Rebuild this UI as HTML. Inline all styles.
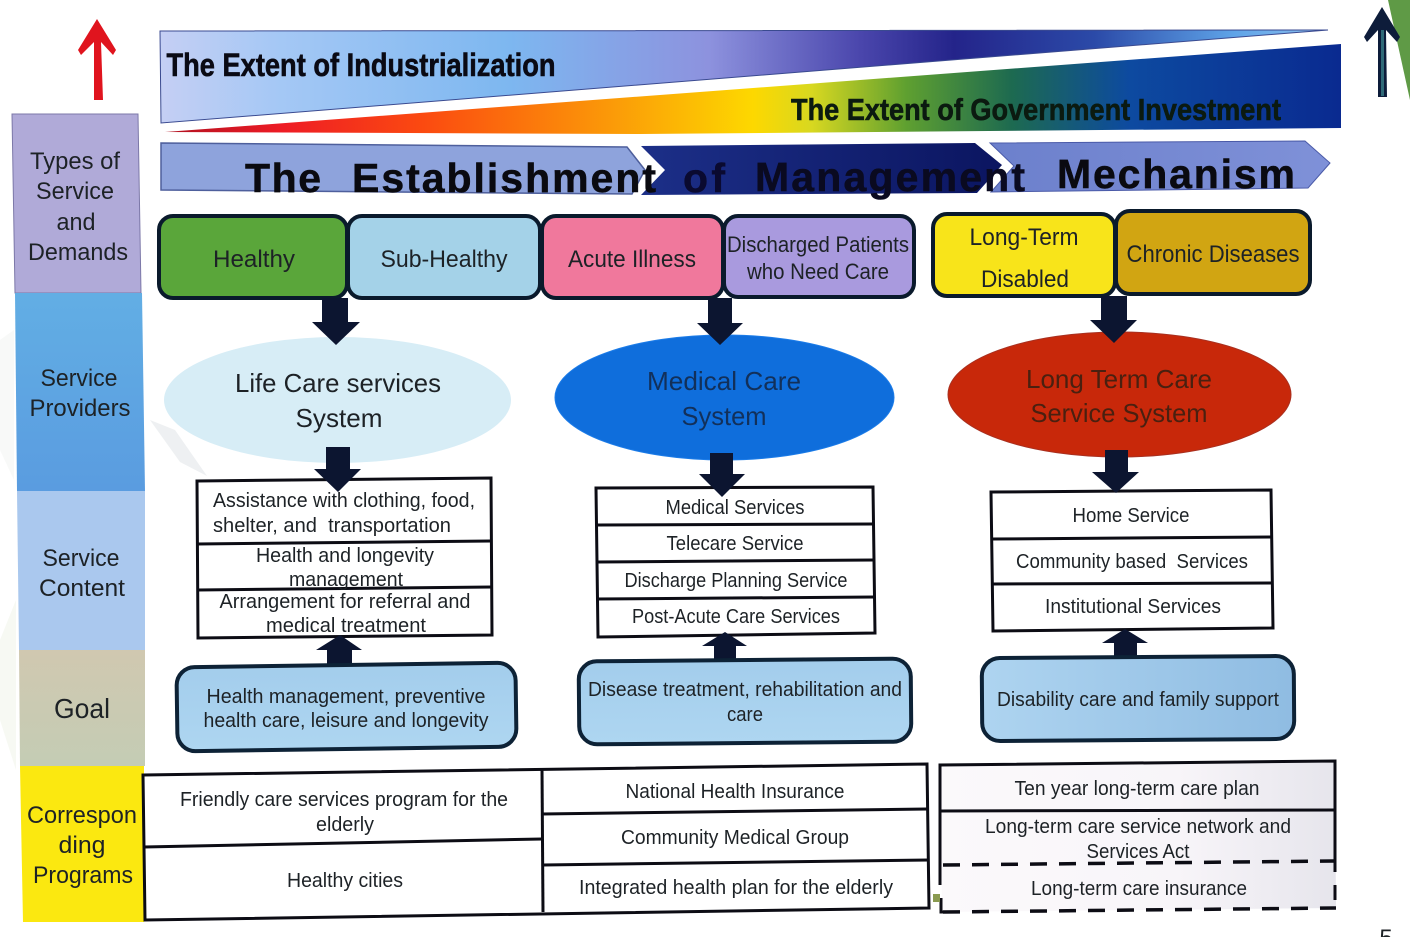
<!DOCTYPE html>
<html>
<head>
<meta charset="utf-8">
<style>
html,body{margin:0;padding:0;background:#fff;}
svg{display:block;}
text{font-family:"Liberation Sans",sans-serif;fill:#1d2226;text-anchor:middle;}
</style>
</head>
<body>
<svg width="1410" height="937" viewBox="0 0 1410 937" xmlns="http://www.w3.org/2000/svg">
<defs>
<linearGradient id="top" x1="160" x2="1328" y1="0" y2="0" gradientUnits="userSpaceOnUse">
<stop offset="0" stop-color="#c5cff4"/><stop offset=".1" stop-color="#a5c8f5"/><stop offset=".3" stop-color="#7db7f0"/>
<stop offset=".47" stop-color="#8d92de"/><stop offset=".6" stop-color="#4a46ac"/><stop offset=".68" stop-color="#24248a"/>
<stop offset=".8" stop-color="#2b4aa8"/><stop offset=".92" stop-color="#5fa4e8"/><stop offset="1" stop-color="#8fc0ee"/>
</linearGradient>
<linearGradient id="bot" x1="165" x2="1341" y1="0" y2="0" gradientUnits="userSpaceOnUse">
<stop offset="0" stop-color="#b01020"/><stop offset=".1" stop-color="#ee1c25"/><stop offset=".22" stop-color="#fb4a10"/>
<stop offset=".38" stop-color="#fb9a08"/><stop offset=".5" stop-color="#fdd800"/><stop offset=".55" stop-color="#d8d820"/>
<stop offset=".63" stop-color="#5fa030"/><stop offset=".72" stop-color="#1d6a50"/><stop offset=".82" stop-color="#0d4aa0"/>
<stop offset="1" stop-color="#0a2a90"/>
</linearGradient>
<linearGradient id="dark" x1="640" x2="1005" y1="0" y2="0" gradientUnits="userSpaceOnUse">
<stop offset="0" stop-color="#1c2f88"/><stop offset="1" stop-color="#0b1560"/>
</linearGradient>
<linearGradient id="band3" x1="990" x2="1331" y1="0" y2="0" gradientUnits="userSpaceOnUse">
<stop offset="0" stop-color="#6c80cc"/><stop offset="1" stop-color="#7f91d8"/>
</linearGradient>
<linearGradient id="prov" x1="0" x2="0" y1="293" y2="491" gradientUnits="userSpaceOnUse">
<stop offset="0" stop-color="#62aee4"/><stop offset="1" stop-color="#5a9ce0"/>
</linearGradient>
<linearGradient id="goal" x1="0" x2="0" y1="650" y2="766" gradientUnits="userSpaceOnUse">
<stop offset="0" stop-color="#d0c8b0"/><stop offset="1" stop-color="#c4ccb4"/>
</linearGradient>
<linearGradient id="rt" x1="941" x2="1336" y1="0" y2="0" gradientUnits="userSpaceOnUse">
<stop offset="0" stop-color="#fbf9fb"/><stop offset=".6" stop-color="#f8f5f9"/><stop offset="1" stop-color="#e6e5ec"/>
</linearGradient>
<linearGradient id="gb" x1="0" x2="0" y1="0" y2="1">
<stop offset="0" stop-color="#a3cdec"/><stop offset="1" stop-color="#aed6f1"/>
</linearGradient>
<linearGradient id="gb3" x1="0" x2="1" y1="0" y2="0">
<stop offset="0" stop-color="#aed4f0"/><stop offset="1" stop-color="#8fbce2"/>
</linearGradient>
</defs>

<!-- faint backdrop -->
<polygon points="150,420 175,430 207,476 180,462" fill="#eef0f2"/>
<polygon points="0,340 14,330 14,480 0,450" fill="#f8f9f8"/>
<polygon points="0,640 16,600 16,770 0,720" fill="#f7f9f3"/>
<polygon points="1388,0 1410,0 1410,100" fill="#5f9a46"/>

<!-- outer arrows -->
<polygon points="97,19 116,50 113,55 101,42 103,100 94,100 94,42 81,55 78,50" fill="#e0141e"/>
<polygon points="1382,7 1400,37 1397,42 1386,30 1387,97 1378,97 1378,30 1367,42 1364,37" fill="#0d1c3a"/>
<rect x="1381" y="30" width="3" height="66" fill="#2f6a78"/>

<!-- left column -->
<polygon points="12,114 138,114 141,293 15,293" fill="#b0aad8" stroke="#7c78a8" stroke-width="1"/>
<polygon points="15,293 142,293 145,491 17,491" fill="url(#prov)"/>
<polygon points="17,491 145,491 145,650 19,650" fill="#aac8ee"/>
<polygon points="19,650 145,650 145,766 20,766" fill="url(#goal)"/>
<polygon points="20,766 144,766 144,922 23,922" fill="#fbe810"/>
<g font-size="24">
<text x="75" y="169" textLength="90" lengthAdjust="spacingAndGlyphs">Types of</text>
<text x="75" y="199" textLength="78" lengthAdjust="spacingAndGlyphs">Service</text>
<text x="76" y="230" textLength="39" lengthAdjust="spacingAndGlyphs">and</text>
<text x="78" y="260" textLength="100" lengthAdjust="spacingAndGlyphs">Demands</text>
<text x="79" y="386" textLength="77" lengthAdjust="spacingAndGlyphs">Service</text>
<text x="80" y="416" textLength="101" lengthAdjust="spacingAndGlyphs">Providers</text>
<text x="81" y="566" textLength="77" lengthAdjust="spacingAndGlyphs">Service</text>
<text x="82" y="596" textLength="86" lengthAdjust="spacingAndGlyphs">Content</text>
<text x="82" y="718" font-size="28" textLength="56" lengthAdjust="spacingAndGlyphs">Goal</text>
<text x="82" y="823" textLength="110" lengthAdjust="spacingAndGlyphs">Correspon</text>
<text x="82" y="853" textLength="47" lengthAdjust="spacingAndGlyphs">ding</text>
<text x="83" y="883" textLength="100" lengthAdjust="spacingAndGlyphs">Programs</text>
</g>

<!-- top wedges -->
<polygon points="160,31 1328,30 161,123" fill="url(#top)" stroke="#3a4a90" stroke-width="1"/>
<polygon points="165,132 1341,44 1341,128 640,134" fill="url(#bot)"/>
<text x="361" y="76" font-size="32" font-weight="bold" style="fill:#0a0a14;stroke:#0a0a14;stroke-width:.6" textLength="389" lengthAdjust="spacingAndGlyphs">The Extent of Industrialization</text>
<text x="1036" y="120" font-size="31" font-weight="bold" style="fill:#0b1a10;stroke:#0b1a10;stroke-width:.6" textLength="490" lengthAdjust="spacingAndGlyphs">The Extent of Government Investment</text>

<!-- establishment band -->
<polygon points="161,143 627,147 645,170 632,194 161,190" fill="#8ea3dc" stroke="#4e5f9c" stroke-width="1.5"/>
<polygon points="641,146 975,143 1002,165 977,193 641,195 665,170" fill="url(#dark)"/>
<polygon points="990,143 1305,141 1330,163 1308,188 991,192 1014,166" fill="url(#band3)" stroke="#4a5aa8" stroke-width="1"/>
<g font-size="41" font-weight="bold" style="fill:#0a0a10;">
<text x="283" y="192" style="fill:#0a0a10;stroke:#0a0a10;stroke-width:.5" textLength="76">The</text>
<text x="504" y="192" style="fill:#0a0a10;stroke:#0a0a10;stroke-width:.5" textLength="304">Establishment</text>
<text x="704" y="192" style="fill:#0a0a30;stroke:#0a0a30;stroke-width:.5" textLength="42">of</text>
<text x="890" y="191" style="fill:#0a0a20;stroke:#0a0a20;stroke-width:.5" textLength="270">Management</text>
<text x="1176" y="188" style="fill:#0a0a10;stroke:#0a0a10;stroke-width:.5" textLength="238">Mechanism</text>
</g>

<!-- type boxes -->
<g stroke="#0a1a2c" stroke-width="4">
<rect x="159" y="216" width="188" height="82" rx="14" fill="#5aa63a"/>
<rect x="348" y="216" width="192" height="82" rx="14" fill="#a4d2e8"/>
<rect x="542" y="216" width="181" height="82" rx="14" fill="#f0789c"/>
<rect x="724" y="216" width="190" height="81" rx="14" fill="#a99ade"/>
<rect x="933" y="214" width="182" height="82" rx="14" fill="#f8e41a"/>
<rect x="1116" y="211" width="194" height="83" rx="14" fill="#d1a512"/>
</g>
<g font-size="24">
<text x="254" y="267" textLength="82" lengthAdjust="spacingAndGlyphs">Healthy</text>
<text x="444" y="267" textLength="127" lengthAdjust="spacingAndGlyphs">Sub-Healthy</text>
<text x="632" y="267" textLength="128" lengthAdjust="spacingAndGlyphs">Acute Illness</text>
<text x="818" y="252" font-size="22" textLength="182" lengthAdjust="spacingAndGlyphs">Discharged Patients</text>
<text x="818" y="279" font-size="22" textLength="142" lengthAdjust="spacingAndGlyphs">who Need Care</text>
<text x="1024" y="245" textLength="109" lengthAdjust="spacingAndGlyphs">Long-Term</text>
<text x="1025" y="287" textLength="88" lengthAdjust="spacingAndGlyphs">Disabled</text>
<text x="1213" y="262" textLength="173" lengthAdjust="spacingAndGlyphs">Chronic Diseases</text>
</g>

<!-- ellipses -->
<ellipse cx="337.5" cy="400" rx="173.5" ry="63" fill="#d7edf6"/>
<ellipse cx="724.5" cy="397.5" rx="169.5" ry="62.5" fill="#0f6edc" stroke="#1c7ce8" stroke-width="1"/>
<ellipse cx="1119.5" cy="394.5" rx="171.5" ry="62.5" fill="#c8280a" stroke="#a83020" stroke-width="1"/>
<g font-size="26">
<text x="338" y="392" textLength="206" lengthAdjust="spacingAndGlyphs">Life Care services</text>
<text x="339" y="427" textLength="87" lengthAdjust="spacingAndGlyphs">System</text>
<text x="724" y="390" style="fill:#12305a" textLength="154" lengthAdjust="spacingAndGlyphs">Medical Care</text>
<text x="724" y="425" style="fill:#12305a" textLength="85" lengthAdjust="spacingAndGlyphs">System</text>
<text x="1119" y="388" style="fill:#4a2010" textLength="186" lengthAdjust="spacingAndGlyphs">Long Term Care</text>
<text x="1119" y="422" style="fill:#4a2010" textLength="177" lengthAdjust="spacingAndGlyphs">Service System</text>
</g>

<!-- top block arrows -->
<g fill="#0c1530">
<polygon points="322,298 348,298 348,322 360,322 336,345 312,322 322,322"/>
<polygon points="708,298 732,298 732,323 743,323 720,345 697,323 708,323"/>
<polygon points="1101,296 1127,296 1127,320 1137,320 1114,343 1090,320 1101,320"/>
</g>

<!-- service tables -->
<g fill="#fff" stroke="#0c0c14" stroke-width="3">
<polygon points="197,481 491,478 492,635 198,638"/>
<line x1="197" y1="544" x2="491" y2="541"/>
<line x1="198" y1="590" x2="492" y2="587"/>
<polygon points="596,488 873,487 875,633 598,637"/>
<line x1="597" y1="525" x2="874" y2="524"/>
<line x1="597" y1="562" x2="874" y2="560"/>
<line x1="597" y1="599" x2="875" y2="597"/>
<polygon points="991,492 1271,490 1273,628 993,631"/>
<line x1="992" y1="539" x2="1272" y2="537"/>
<line x1="992" y1="584" x2="1272" y2="583"/>
</g>
<g fill="#0c1530">
<polygon points="326,447 350,447 350,469 361,469 338,492 314,469 326,469"/>
<polygon points="710,453 733,453 733,474 745,474 722,497 699,474 710,474"/>
<polygon points="1105,450 1128,450 1128,472 1139,472 1116,493 1092,472 1105,472"/>
</g>
<g font-size="20">
<text x="344" y="507" textLength="262" lengthAdjust="spacingAndGlyphs">Assistance with clothing, food,</text>
<text x="332" y="532" textLength="238" lengthAdjust="spacingAndGlyphs" xml:space="preserve">shelter, and  transportation</text>
<text x="345" y="562" textLength="178" lengthAdjust="spacingAndGlyphs">Health and longevity</text>
<text x="346" y="586" textLength="114" lengthAdjust="spacingAndGlyphs">management</text>
<text x="345" y="608" textLength="251" lengthAdjust="spacingAndGlyphs">Arrangement for referral and</text>
<text x="346" y="632" textLength="160" lengthAdjust="spacingAndGlyphs">medical treatment</text>
<text x="735" y="514" textLength="139" lengthAdjust="spacingAndGlyphs">Medical Services</text>
<text x="735" y="550" textLength="137" lengthAdjust="spacingAndGlyphs">Telecare Service</text>
<text x="736" y="587" textLength="223" lengthAdjust="spacingAndGlyphs">Discharge Planning Service</text>
<text x="736" y="623" textLength="208" lengthAdjust="spacingAndGlyphs">Post-Acute Care Services</text>
<text x="1131" y="522" textLength="117" lengthAdjust="spacingAndGlyphs">Home Service</text>
<text x="1132" y="568" textLength="232" lengthAdjust="spacingAndGlyphs" xml:space="preserve">Community based  Services</text>
<text x="1133" y="613" textLength="176" lengthAdjust="spacingAndGlyphs">Institutional Services</text>
</g>

<!-- up arrows -->
<g fill="#0c1530">
<polygon points="327,668 352,668 352,650 362,650 340,635 316,650 327,650"/>
<polygon points="714,664 736,664 736,646 747,646 725,632 702,646 714,646"/>
<polygon points="1114,660 1137,660 1137,643 1148,643 1125,629 1102,643 1114,643"/>
</g>

<!-- goal boxes -->
<g stroke="#0d2236" stroke-width="4">
<rect x="177" y="665" width="339" height="84" rx="18" fill="url(#gb)" transform="rotate(-.8 346 707)"/>
<rect x="579" y="660" width="332" height="83" rx="18" fill="url(#gb)" transform="rotate(-.5 745 701)"/>
<rect x="982" y="657" width="312" height="83" rx="18" fill="url(#gb3)" transform="rotate(-.4 1138 698)"/>
</g>
<g font-size="20">
<text x="346" y="703" textLength="279" lengthAdjust="spacingAndGlyphs">Health management, preventive</text>
<text x="346" y="727" textLength="285" lengthAdjust="spacingAndGlyphs">health care, leisure and longevity</text>
<text x="745" y="696" textLength="314" lengthAdjust="spacingAndGlyphs">Disease treatment, rehabilitation and</text>
<text x="745" y="721" textLength="36" lengthAdjust="spacingAndGlyphs">care</text>
<text x="1138" y="706" textLength="282" lengthAdjust="spacingAndGlyphs">Disability care and family support</text>
</g>

<!-- program tables -->
<g fill="#fff" stroke="#0c0c14" stroke-width="3">
<polygon points="143,775 927,764 929,908 145,920"/>
<line x1="542" y1="769" x2="543" y2="912"/>
<line x1="144" y1="847" x2="542" y2="839"/>
<line x1="542" y1="814" x2="927" y2="809"/>
<line x1="543" y1="865" x2="929" y2="860"/>
</g>
<polygon points="940,765 1335,761 1336,908 942,912" fill="url(#rt)"/>
<g fill="none" stroke="#0c0c14" stroke-width="3">
<path d="M940,885 L940,765 L1335,761 L1335,872"/>
<line x1="940" y1="811" x2="1335" y2="810"/>
<line x1="1335" y1="885" x2="1335" y2="900"/>
</g>
<g fill="none" stroke="#0c0c14" stroke-width="3.5" stroke-dasharray="17 12">
<path d="M943,865 L1334,861"/>
<path d="M943,912 L1336,908"/>
</g>
<path d="M941,898 L941,912 L948,912" stroke="#0c0c14" stroke-width="3" fill="none"/>
<rect x="933" y="894" width="7" height="8" fill="#8a9a50"/>
<g font-size="20">
<text x="344" y="806" textLength="328" lengthAdjust="spacingAndGlyphs">Friendly care services program for the</text>
<text x="345" y="831" textLength="58" lengthAdjust="spacingAndGlyphs">elderly</text>
<text x="345" y="887" textLength="116" lengthAdjust="spacingAndGlyphs">Healthy cities</text>
<text x="735" y="798" textLength="219" lengthAdjust="spacingAndGlyphs">National Health Insurance</text>
<text x="735" y="844" textLength="228" lengthAdjust="spacingAndGlyphs">Community Medical Group</text>
<text x="736" y="894" textLength="314" lengthAdjust="spacingAndGlyphs">Integrated health plan for the elderly</text>
<text x="1137" y="795" textLength="245" lengthAdjust="spacingAndGlyphs">Ten year long-term care plan</text>
<text x="1138" y="833" textLength="306" lengthAdjust="spacingAndGlyphs">Long-term care service network and</text>
<text x="1138" y="858" textLength="103" lengthAdjust="spacingAndGlyphs">Services Act</text>
<text x="1139" y="895" textLength="216" lengthAdjust="spacingAndGlyphs">Long-term care insurance</text>
</g>
<text x="1386" y="946" font-size="24">5</text>
</svg>
</body>
</html>
